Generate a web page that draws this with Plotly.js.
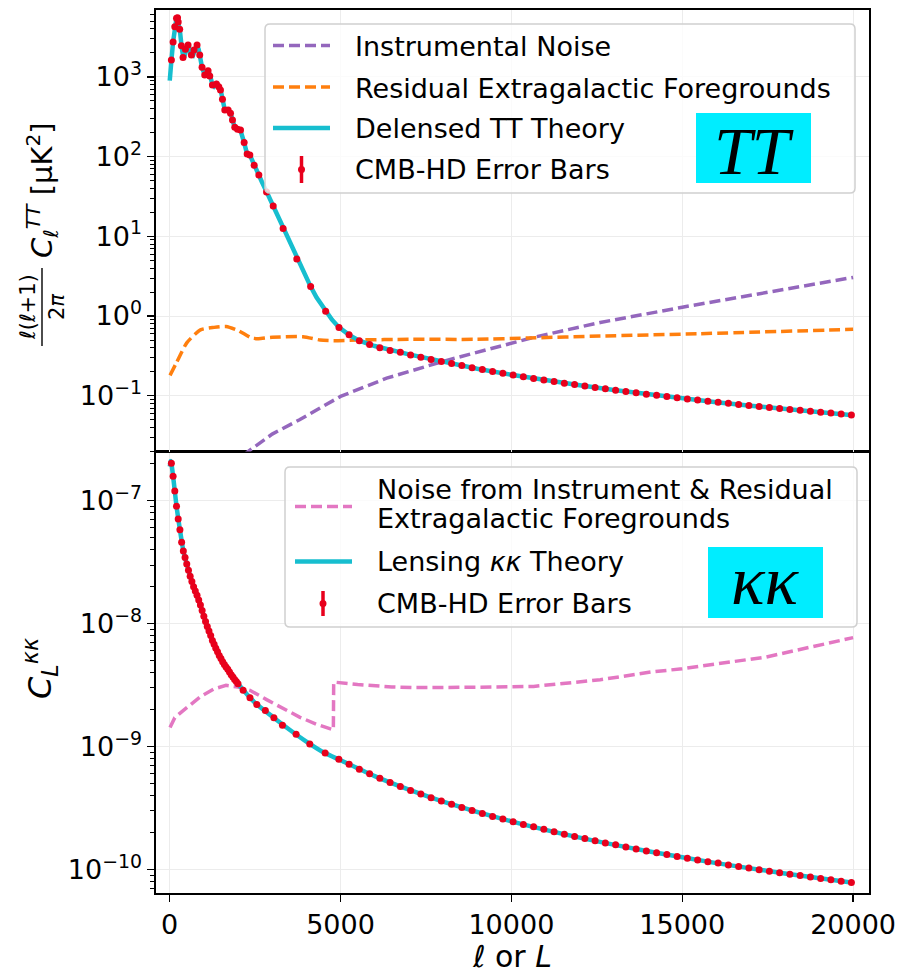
<!DOCTYPE html>
<html>
<head>
<meta charset="utf-8">
<script src="https://cdn.plot.ly/plotly-3.0.1.min.js"></script>
<style>html,body{margin:0;padding:0;background:#fff;}#chart{width:900px;height:975px;}</style>
</head>
<body>
<div id="chart"></div>
<script>
// ---------------- DATA ----------------
// Top panel: TT
const ellTheoryTT = [2,30,50,100,150,200,220,250,300,350,400,430,470,530,560,620,680,730,800,850,900,950,1030,1120,1180,1250,1300,1370,1440,1500,1550,1610,1700,1780,1840,1900,1990,2070,2180,2260,2350,2470,2610,2700,2840,3030,3150,3320,3500,3720,3900,4125,4300,4565,4750,4955,5250,5550,6000,7000,8000,9000,10000,11000,12000,13000,14000,15000,16000,17000,18000,19000,20000];
const theoryTT = [900,1100,1600,2750,4300,5500,5600,5000,3800,2400,1750,1800,2200,2550,2450,1900,1850,2200,2550,2200,1700,1300,1050,1220,1050,800,760,820,760,660,520,390,390,350,290,235,220,215,150,110,104,78,59,48,36,24,18,12.5,8.5,5.2,3.6,2.34,1.7,1.15,0.9,0.72,0.58,0.49,0.42,0.33,0.266,0.218,0.183,0.156,0.135,0.118,0.104,0.093,0.083,0.075,0.068,0.062,0.057];

const ellDotsTT = [50,100,150,200,230,250,293,342,391,460,538,635,713,801,880,948,1026,1124,1173,1251,1369,1437,1486,1545,1613,1711,1780,1838,1906,1985,2073,2180,2268,2346,2473,2610,2835,3030,3320,3720,4125,4565,4955,
5250,5550,5850,6150,6450,6750,7050,7350,7650,7950,8250,8550,8850,9150,9450,9750,10050,10350,10650,10950,11250,11550,11850,12150,12450,12750,13050,13350,13650,13950,14250,14550,14850,15150,15450,15750,16050,16350,16650,16950,17250,17550,17850,18150,18450,18750,19050,19350,19650,19950];
const dotsTT = [1630,2750,4270,5450,5550,4900,3960,2470,1760,2220,2520,1880,2180,2520,1880,1320,1060,1200,1030,790,815,755,686,525,385,385,350,288,233,220,216,150,108,105,78,59,36,24,12.5,5.2,2.34,1.15,0.72,
0.58,0.49,0.44,0.40,0.37,0.35,0.325,0.304,0.284,0.268,0.253,0.239,0.225,0.2128,0.2015,0.1912,0.1817,0.1730,0.1649,0.1573,0.1503,0.1438,0.1378,0.1321,0.1268,0.1219,0.1172,0.1128,0.1087,0.1047,0.1011,0.0976,0.0943,0.0912,0.0882,0.0854,0.0827,0.0802,0.0778,0.0755,0.0733,0.0712,0.0692,0.0673,0.0655,0.0637,0.0621,0.0605,0.0589,0.0574];

const ellNoiseTT = [1500,2000,2300,3000,3800,5000,6350,8000,10650,12600,15000,17500,20000];
const noiseTT = [0.009,0.0155,0.020,0.033,0.050,0.098,0.166,0.27,0.54,0.83,1.29,2.0,3.05];

const ellFgTT = [10,200,500,900,1300,1650,2000,2400,2600,3000,3900,4400,4800,5500,7000,9000,10500,12600,15500,20000];
const fgTT = [0.18,0.26,0.46,0.67,0.72,0.74,0.66,0.53,0.52,0.54,0.55,0.50,0.49,0.50,0.51,0.51,0.53,0.56,0.60,0.68];

// Bottom panel: kappa-kappa
const ellTheoryKK = [5,30,50,100,150,200,300,400,500,650,880,1000,1200,1500,1700,2000,2500,3000,3500,4000,4500,5000,6000,7000,8000,10000,12000,14000,16000,18000,20000];
const theoryKK = [1.9e-7,2.1e-7,2.02e-7,1.58e-7,1.2e-7,9.0e-8,5.8e-8,3.9e-8,3.05e-8,2.2e-8,1.46e-8,1.15e-8,8.0e-9,5.2e-9,4.25e-9,3.25e-9,2.27e-9,1.76e-9,1.38e-9,1.1e-9,9.0e-10,7.75e-10,5.76e-10,4.47e-10,3.58e-10,2.47e-10,1.82e-10,1.41e-10,1.13e-10,9.31e-11,7.81e-11];

const ellDotsKK = [50,100,150,200,250,300,350,400,450,500,550,600,650,700,750,800,850,900,950,1000,1050,1100,1150,1200,1250,1300,1350,1400,1450,1500,1550,1600,1650,1700,1750,1800,1850,1900,1950,2000,
2150,2350,2550,2800,3050,3300,3700,4100,4550,4950,
5250,5550,5850,6150,6450,6750,7050,7350,7650,7950,8250,8550,8850,9150,9450,9750,10050,10350,10650,10950,11250,11550,11850,12150,12450,12750,13050,13350,13650,13950,14250,14550,14850,15150,15450,15750,16050,16350,16650,16950,17250,17550,17850,18150,18450,18750,19050,19350,19650,19950];
const dotsKK = [2.02e-7,1.58e-7,1.2e-7,9.0e-8,7.1e-8,5.8e-8,4.6e-8,3.9e-8,3.45e-8,3.05e-8,2.72e-8,2.43e-8,2.2e-8,2.0e-8,1.84e-8,1.70e-8,1.56e-8,1.42e-8,1.28e-8,1.15e-8,1.04e-8,9.5e-9,8.7e-9,8.0e-9,7.3e-9,6.8e-9,6.3e-9,5.9e-9,5.5e-9,5.2e-9,4.9e-9,4.65e-9,4.45e-9,4.25e-9,4.05e-9,3.85e-9,3.68e-9,3.52e-9,3.38e-9,3.25e-9,
2.87e-9,2.5e-9,2.2e-9,1.97e-9,1.72e-9,1.49e-9,1.26e-9,1.05e-9,8.9e-10,7.9e-10,
7.20e-10,6.56e-10,6.01e-10,5.53e-10,5.11e-10,4.74e-10,4.41e-10,4.12e-10,3.85e-10,3.62e-10,3.40e-10,3.20e-10,3.03e-10,2.86e-10,2.71e-10,2.58e-10,2.45e-10,2.33e-10,2.23e-10,2.13e-10,2.03e-10,1.94e-10,1.86e-10,1.79e-10,1.72e-10,1.65e-10,1.59e-10,1.53e-10,1.47e-10,1.42e-10,1.37e-10,1.33e-10,1.28e-10,1.24e-10,1.20e-10,1.16e-10,1.13e-10,1.09e-10,1.06e-10,1.03e-10,1.00e-10,9.71e-11,9.44e-11,9.18e-11,8.94e-11,8.70e-11,8.48e-11,8.26e-11,8.05e-11,7.85e-11];

const ellNoiseKK = [10,150,350,600,900,1300,1650,2000,2350,2850,3300,3800,4300,4790,4800,5500,6500,7200,9000,10650,12600,14100,15000,17460,20000];
const noiseKK = [1.43e-9,1.72e-9,1.92e-9,2.2e-9,2.55e-9,2.95e-9,3.15e-9,3.05e-9,2.87e-9,2.4e-9,2.05e-9,1.74e-9,1.52e-9,1.37e-9,3.35e-9,3.2e-9,3.06e-9,3.02e-9,3.04e-9,3.09e-9,3.5e-9,4.05e-9,4.3e-9,5.36e-9,7.7e-9];

// tick labels
const xTickVals = [0,5000,10000,15000,20000];
const xTickText = ['0','5000','10000','15000','20000'];
const yTopTickVals = [0.1,1,10,100,1000];
const yTopTickText = ['10<sup>−1</sup>','10<sup>0</sup>','10<sup>1</sup>','10<sup>2</sup>','10<sup>3</sup>'];
const yBotTickVals = [1e-10,1e-9,1e-8,1e-7];
const yBotTickText = ['10<sup>−10</sup>','10<sup>−9</sup>','10<sup>−8</sup>','10<sup>−7</sup>'];

const legendTop = ['Instrumental Noise','Residual Extragalactic Foregrounds','Delensed TT Theory','CMB-HD Error Bars'];
const legendBot = ['Noise from Instrument &amp; Residual','Extragalactic Foregrounds','Lensing <i>κκ</i> Theory','CMB-HD Error Bars'];

// ---------------- STYLE ----------------
const PURPLE='#9467bd', ORANGE='#ff7f0e', CYAN='#17becf', PINK='#e377c2', RED='#e8001c', BOXC='#00edff';
const FONT='DejaVu Sans';
const W=900,H=975, L=156, R=31, T=10, B=82;
const PW=W-L-R, PH=H-T-B;
const X = px => (px-L)/PW;
const Y = py => (H-B-py)/PH;

// minor log ticks (2..9 in every decade) for both panels
function minorLogTicks(e0,e1){const v=[];for(let e=e0;e<=e1;e++){for(let m=2;m<=9;m++){v.push(m*Math.pow(10,e));}}return v;}

const dash='11px,5px';
const traces = [
  {x:ellNoiseTT,y:noiseTT,xaxis:'x2',yaxis:'y',mode:'lines',line:{color:PURPLE,width:3.5,dash:dash},showlegend:false,hoverinfo:'skip'},
  {x:ellFgTT,y:fgTT,xaxis:'x2',yaxis:'y',mode:'lines',line:{color:ORANGE,width:3.5,dash:dash,shape:'spline',smoothing:0.6},showlegend:false,hoverinfo:'skip'},
  {x:ellTheoryTT,y:theoryTT,xaxis:'x2',yaxis:'y',mode:'lines',line:{color:CYAN,width:4.5},showlegend:false,hoverinfo:'skip'},
  {x:ellDotsTT,y:dotsTT,xaxis:'x2',yaxis:'y',mode:'markers',marker:{color:RED,size:7},showlegend:false,hoverinfo:'skip'},
  {x:ellNoiseKK,y:noiseKK,xaxis:'x',yaxis:'y2',mode:'lines',line:{color:PINK,width:3.5,dash:dash},showlegend:false,hoverinfo:'skip'},
  {x:ellTheoryKK,y:theoryKK,xaxis:'x',yaxis:'y2',mode:'lines',line:{color:CYAN,width:4.5,shape:'spline',smoothing:0.5},showlegend:false,hoverinfo:'skip'},
  {x:ellDotsKK,y:dotsKK,xaxis:'x',yaxis:'y2',mode:'markers',marker:{color:RED,size:7},showlegend:false,hoverinfo:'skip'}
];

const axCommon = {showline:true,mirror:true,linecolor:'black',linewidth:1.6,gridcolor:'#ececec',gridwidth:1,zeroline:false,
  tickfont:{family:FONT,size:27,color:'black'},ticks:'outside',ticklen:7,tickwidth:1.5,tickcolor:'black'};
const minorTop = {tickmode:'array',tickvals:minorLogTicks(-2,3),ticks:'outside',ticklen:4,tickwidth:1,tickcolor:'black',showgrid:false};
const minorBot = {tickmode:'array',tickvals:minorLogTicks(-11,-7),ticks:'outside',ticklen:4,tickwidth:1,tickcolor:'black',showgrid:false};

function rr(x0,y0,x1,y1,r){ // pixel coords -> paper path, rounded rectangle
  const rx=r/PW, ry=r/PH;
  const a=X(x0),b=X(x1),c=Y(y0),d=Y(y1);
  return `M${a+rx},${c} L${b-rx},${c} Q${b},${c} ${b},${c-ry} L${b},${d+ry} Q${b},${d} ${b-rx},${d} L${a+rx},${d} Q${a},${d} ${a},${d+ry} L${a},${c-ry} Q${a},${c} ${a+rx},${c} Z`;
}
function hline(x0,x1,y,color,width,dsh){return {type:'line',xref:'paper',yref:'paper',x0:X(x0),x1:X(x1),y0:Y(y),y1:Y(y),line:{color:color,width:width,dash:dsh||'solid'}};}
function vline(x,y0,y1,color,width){return {type:'line',xref:'paper',yref:'paper',x0:X(x),x1:X(x),y0:Y(y0),y1:Y(y1),line:{color:color,width:width}};}
function dot(x,y,r,color){return {type:'circle',xref:'paper',yref:'paper',x0:X(x-r),x1:X(x+r),y0:Y(y+r),y1:Y(y-r),fillcolor:color,line:{width:0}};}
function rect(x0,y0,x1,y1,fill){return {type:'rect',xref:'paper',yref:'paper',x0:X(x0),x1:X(x1),y0:Y(y1),y1:Y(y0),fillcolor:fill,line:{width:0}};}
function txt(x,y,text,size,opts){return Object.assign({xref:'paper',yref:'paper',x:X(x),y:Y(y),text:text,showarrow:false,xanchor:'left',yanchor:'middle',font:{family:FONT,size:size,color:'black'}},opts||{});}

const shapes = [
  {type:'path',xref:'paper',yref:'paper',path:rr(265,24,855,193,5),fillcolor:'rgba(255,255,255,0.8)',line:{color:'#d0d0d0',width:1.5}},
  hline(273,330,45.5,PURPLE,3.5,dash),
  hline(273,330,87,ORANGE,3.5,dash),
  hline(273,330,128,CYAN,4.5),
  vline(301.5,156,183,RED,3.5),
  dot(301.5,169.5,3.5,RED),
  rect(696,113,811,183,BOXC),
  {type:'path',xref:'paper',yref:'paper',path:rr(285,467,857,627,5),fillcolor:'rgba(255,255,255,0.8)',line:{color:'#d0d0d0',width:1.5}},
  hline(295,352,506.5,PINK,3.5,dash),
  hline(295,352,561.5,CYAN,4.5),
  vline(323,591,616,RED,3.5),
  dot(323,603.5,3.5,RED),
  rect(708,547,823,618,BOXC),
  // fraction bar of top y label
  {type:'line',xref:'paper',yref:'paper',x0:X(42),x1:X(42),y0:Y(268),y1:Y(346),line:{color:'black',width:1.4}}
];

const annotations = [
  txt(353,46.5,legendTop[0],27),
  txt(353,88,legendTop[1],27),
  txt(353,128.5,legendTop[2],27),
  txt(353,169,legendTop[3],27),
  txt(375,490,legendBot[0],27),
  txt(375,518.5,legendBot[1],27),
  txt(375,561.5,legendBot[2],27),
  txt(375,603.5,legendBot[3],27),
  txt(753.5,151,'<i>TT</i>',68,{xanchor:'center',font:{family:'Liberation Serif',size:68,color:'black'}}),
  txt(765.5,580,'<i>κκ</i>',70,{xanchor:'center',font:{family:'Liberation Serif',size:70,color:'black'}}),
  // axis labels
  txt(512,956,'<i>ℓ</i> or <i>L</i>',30,{xanchor:'center'}),
  txt(42,190,'<i>C</i><sub><i>ℓ</i></sub><sup><i>TT</i></sup> [μK<sup>2</sup>]',29,{xanchor:'center',textangle:-90}),
  txt(28,307,'<i>ℓ</i>(<i>ℓ</i>+1)',21,{xanchor:'center',textangle:-90}),
  txt(57,307,'2<i>π</i>',21,{xanchor:'center',textangle:-90}),
  txt(40,668,'<i>C</i><sub><i>L</i></sub><sup><i>κκ</i></sup>',32,{xanchor:'center',textangle:-90})
];

const layout = {
  width:W,height:H,margin:{l:L,r:R,t:T,b:B},paper_bgcolor:'white',plot_bgcolor:'white',
  showlegend:false,
  xaxis:Object.assign({},axCommon,{domain:[0,1],anchor:'y2',range:[-400,20465],tickmode:'array',tickvals:xTickVals,ticktext:xTickText}),
  xaxis2:Object.assign({},axCommon,{domain:[0,1],anchor:'y',matches:'x',range:[-400,20465],tickmode:'array',tickvals:xTickVals,showticklabels:false,ticks:''}),
  yaxis:Object.assign({},axCommon,{domain:[0.5,1],anchor:'x2',type:'log',range:[-1.70,3.84],tickmode:'array',tickvals:yTopTickVals,ticktext:yTopTickText,minor:minorTop}),
  yaxis2:Object.assign({},axCommon,{domain:[0,0.5],anchor:'x',type:'log',range:[-10.19,-6.60],tickmode:'array',tickvals:yBotTickVals,ticktext:yBotTickText,minor:minorBot}),
  shapes:shapes,annotations:annotations
};

Plotly.newPlot('chart',traces,layout,{staticPlot:true,displayModeBar:false});
</script>
</body>
</html>
